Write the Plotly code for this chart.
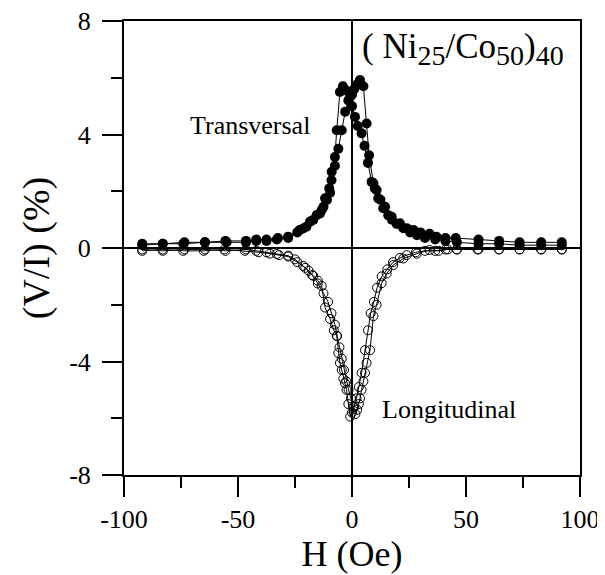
import plotly.graph_objects as go

# Transversal (filled circles) - descending-field branch
trans_d_h = [-92, -83, -74, -64.5, -55, -46.5, -42, -37.5, -33, -28, -24, -21.4, -18.4, -15.5, -13.3,
             -11.8, -10, -8.9, -7.5, -6.7, -5.3, -4, -2.5, -1, 0, 1.3, 2.5, 4.2, 5.5, 7,
             8.6, 10, 11.5, 13.7, 15.9, 17.5, 19.6, 22.5, 25.5, 28.5, 32, 36.5, 41, 46, 55.5,
             64.5, 73.5, 83, 92]
trans_d_v = [0.15, 0.15, 0.15, 0.2, 0.2, 0.2, 0.25, 0.25, 0.3, 0.35, 0.55, 0.69, 0.93, 1.16, 1.34,
             1.75, 2.1, 2.69, 3.21, 4.15, 5.5, 5.7, 5.55, 5.3, 5.0, 4.62, 4.3, 4.04, 3.6, 3.0,
             2.33, 2.1, 1.75, 1.4, 1.15, 1.0, 0.85, 0.7, 0.55, 0.45, 0.35, 0.3, 0.25, 0.2, 0.15,
             0.15, 0.1, 0.1, 0.1]

# Transversal - ascending-field branch
trans_a_h = [-92, -83, -73.5, -64.5, -55.5, -46.5, -42, -37.5, -32.5, -28, -23, -20, -17, -14, -12.5,
             -11, -9.6, -9, -7.5, -6, -4.5, -3, -1.6, 0, 1, 2, 3.5, 5, 6.4, 7.5,
             9.4, 10.8, 12.5, 14.5, 17.4, 21, 24, 27, 30, 34, 37, 41, 45.5, 55.5, 64.5,
             73.5, 83, 92]
trans_a_v = [0.1, 0.15, 0.2, 0.2, 0.25, 0.25, 0.3, 0.3, 0.35, 0.4, 0.63, 0.75, 0.99, 1.22, 1.45,
             1.69, 1.95, 2.39, 2.9, 3.5, 4.15, 4.8, 5.2, 5.4, 5.6, 5.75, 5.92, 5.7, 4.39, 3.27,
             2.28, 2.04, 1.7, 1.45, 1.1, 0.87, 0.7, 0.63, 0.55, 0.5, 0.4, 0.35, 0.35, 0.3, 0.25,
             0.2, 0.2, 0.2]

# Longitudinal (open circles) - branch 1
long_1_h = [-92, -83, -73.5, -64.5, -55.5, -46.5, -42, -37.5, -33, -28, -25, -21.4, -19, -17, -15,
            -13.3, -11.8, -9.6, -8, -6.7, -6, -5.3, -4.5, -3.8, -3.1, -2.4, -1.6, -0.8, 0, 1,
            2, 3, 4.2, 5.7, 7, 8.2, 9.6, 11, 13, 15.5, 18, 21, 24, 28, 32,
            36.5, 41, 46, 55.5, 64.5, 73.5, 83, 92]
long_1_v = [-0.05, -0.1, -0.05, -0.05, -0.1, -0.05, -0.1, -0.15, -0.21, -0.27, -0.4, -0.63, -0.8, -0.98, -1.15,
            -1.34, -2.1, -2.5, -2.9, -3.1, -3.7, -4.05, -4.3, -4.6, -4.76, -5.0, -5.5, -5.94, -5.8, -5.6,
            -5.3, -4.9, -4.4, -3.6, -2.9, -2.3, -1.9, -1.4, -1.0, -0.75, -0.5, -0.35, -0.25, -0.15, -0.1,
            -0.1, -0.05, -0.05, -0.05, -0.05, -0.05, -0.05, -0.05]

# Longitudinal - branch 2
long_2_h = [-92, -83, -74, -65, -56, -47, -41, -36, -32, -28, -24, -20.5, -17.5, -15, -12.5,
            -10.5, -9, -7.5, -6.5, -5.5, -4.5, -3.5, -2.5, -1.5, -0.5, 0.5, 1.5, 2.3, 3, 3.5,
            4.2, 5, 5.7, 6.4, 7.9, 9.4, 10.8, 13, 15.2, 18.1, 22.5, 28.4, 34, 38, 42,
            46, 55, 64.5, 73.5, 83, 92]
long_2_v = [-0.1, -0.05, -0.1, -0.1, -0.05, -0.1, -0.15, -0.2, -0.25, -0.3, -0.5, -0.7, -0.95, -1.25, -1.6,
            -1.9, -2.3, -2.7, -3.1, -3.5, -3.9, -4.3, -4.7, -5.0, -5.3, -5.6, -5.85, -5.7, -5.5, -5.3,
            -5.0, -4.7, -4.4, -4.05, -3.6, -2.4, -2.0, -1.24, -0.9, -0.6, -0.37, -0.2, -0.07, -0.1, -0.05,
            -0.05, -0.05, -0.05, -0.05, -0.05, -0.05]

x_tickvals = [-100, -50, 0, 50, 100]
x_ticktext = ["-100", "-50", "0", "50", "100"]
x_minor = [-75, -25, 25, 75]
y_tickvals = [-8, -4, 0, 4, 8]
y_ticktext = ["-8", "-4", "0", "4", "8"]
y_minor = [-6, -2, 2, 6]

FONT = "Liberation Serif, Times New Roman, serif"

fig = go.Figure()

filled = dict(symbol="circle", size=10, color="black")
openm = dict(symbol="circle-open", size=9, color="black", line=dict(width=1, color="black"))
lineprops = dict(color="black", width=1)

fig.add_trace(go.Scatter(x=trans_d_h, y=trans_d_v, mode="lines+markers", marker=filled, line=lineprops, showlegend=False))
fig.add_trace(go.Scatter(x=trans_a_h, y=trans_a_v, mode="lines+markers", marker=filled, line=lineprops, showlegend=False))
fig.add_trace(go.Scatter(x=long_1_h, y=long_1_v, mode="lines+markers", marker=openm, line=lineprops, showlegend=False))
fig.add_trace(go.Scatter(x=long_2_h, y=long_2_v, mode="lines+markers", marker=openm, line=lineprops, showlegend=False))

axis_common = dict(
    showgrid=False, showline=True, linecolor="black", linewidth=2, mirror=True,
    ticks="outside", ticklen=20, tickwidth=2, tickcolor="black",
    zeroline=True, zerolinecolor="black", zerolinewidth=2,
    tickfont=dict(family=FONT, size=26, color="black"),
    automargin=False, ticklabeloverflow="allow",
)

# page body adds an 8px offset, so the figure is 8px smaller and margins shifted
fig.update_layout(
    width=597, height=567,
    margin=dict(l=116, r=25, t=13, b=100),
    paper_bgcolor="white", plot_bgcolor="white",
    font=dict(family=FONT, color="black"),
    xaxis=dict(range=[-100, 100], tickmode="array", tickvals=x_tickvals, ticktext=x_ticktext,
               minor=dict(tickmode="array", tickvals=x_minor, ticks="outside", ticklen=11, tickwidth=2, tickcolor="black"),
               title=dict(text="H (Oe)", font=dict(family=FONT, size=36, color="black"), standoff=4),
               ticklabelstandoff=0,
               **axis_common),
    yaxis=dict(range=[-8, 8], tickmode="array", tickvals=y_tickvals, ticktext=y_ticktext,
               minor=dict(tickmode="array", tickvals=y_minor, ticks="outside", ticklen=11, tickwidth=2, tickcolor="black"),
               title=dict(text="(V/I) (%)", font=dict(family=FONT, size=38, color="black"), standoff=8),
               ticklabelstandoff=6,
               **axis_common),
)

fig.add_annotation(x=-17.5, y=4.3, text="Transversal", showarrow=False, xanchor="right", yanchor="middle",
                   font=dict(family=FONT, size=26, color="black"))
fig.add_annotation(x=12.3, y=-5.7, text="Longitudinal", showarrow=False, xanchor="left", yanchor="middle",
                   font=dict(family=FONT, size=26, color="black"))
fig.add_annotation(x=3.5, y=7.0,
                   text="( Ni<sub><span style='font-size:28px'>25</span></sub>/Co<sub><span style='font-size:28px'>50</span></sub>)<sub><span style='font-size:28px'>40</span></sub>",
                   showarrow=False, xanchor="left", yanchor="middle", font=dict(family=FONT, size=35, color="black"))

fig.write_html("out.html")
